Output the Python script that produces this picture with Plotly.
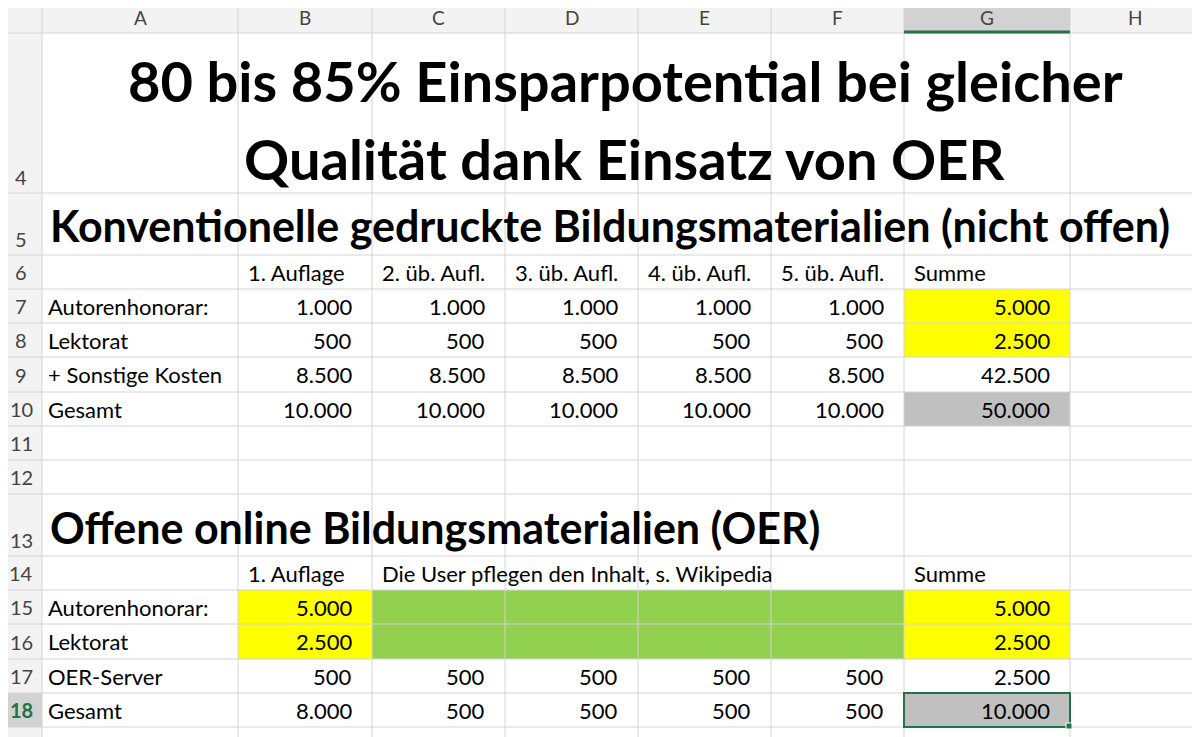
import plotly.graph_objects as go

# ---- data ----
col_letters = ["A", "B", "C", "D", "E", "F", "G", "H"]
row_numbers = [4, 5, 6, 7, 8, 9, 10, 11, 12, 13, 14, 15, 16, 17, 18]
title_lines = ["80 bis 85% Einsparpotential bei gleicher", "Qualität dank Einsatz von OER"]
section1 = "Konventionelle gedruckte Bildungsmaterialien (nicht offen)"
section2 = "Offene online Bildungsmaterialien (OER)"
head1 = ["", "1. Auflage", "2. üb. Aufl.", "3. üb. Aufl.", "4. üb. Aufl.", "5. üb. Aufl.", "Summe"]
labels1 = ["Autorenhonorar:", "Lektorat", "+ Sonstige Kosten", "Gesamt"]
values1 = [["1.000"]*5 + ["5.000"], ["500"]*5 + ["2.500"], ["8.500"]*5 + ["42.500"], ["10.000"]*5 + ["50.000"]]
head2_b = "1. Auflage"
head2_c = "Die User pflegen den Inhalt, s. Wikipedia"
head2_g = "Summe"
labels2 = ["Autorenhonorar:", "Lektorat", "OER-Server", "Gesamt"]
values2 = [["5.000", "", "", "", "", "5.000"], ["2.500", "", "", "", "", "2.500"],
           ["500"]*5 + ["2.500"], ["8.000", "500", "500", "500", "500", "10.000"]]

# ---- layout geometry ----
xb = [0, 42, 238, 372, 505, 638, 771, 904, 1070, 1200]
yb = [33, 193, 255, 289, 323, 357, 392, 426, 460, 494, 556, 590, 624, 659, 693, 727, 737]
YELLOW, GREEN, GRAY = "#ffff00", "#92d050", "#c0c0c0"
FONT = "Lato"
CS = 22
shapes, ann = [], []

def rect(x0, x1, y0, y1, fill, line=None, w=0):
    shapes.append(dict(type="rect", x0=x0, x1=x1, y0=y0, y1=y1, fillcolor=fill,
                       line=dict(color=line or fill, width=w), layer="below"))

def text(x, y, t, anchor="left", size=CS, bold=False, color="black"):
    ann.append(dict(x=x, y=y, text=f"<b>{t}</b>" if bold else t, showarrow=False,
                    xanchor=anchor, yanchor="middle", font=dict(family=FONT, size=size, color=color)))

rect(-10, 1210, -10, 33, "#f3f3f3")
rect(xb[7], xb[8], -10, 33, "#d2d2d2")
rect(-10, 42, 33, 750, "#f3f3f3")
ri = {r: i for i, r in enumerate(row_numbers)}
def cell(col, row, fill):
    rect(xb[col+1], xb[col+2], yb[ri[row]], yb[ri[row]+1], fill)
for r in (7, 8): cell(6, r, YELLOW)
cell(6, 10, GRAY)
for r in (15, 16):
    cell(1, r, YELLOW); cell(6, r, YELLOW)
    rect(xb[3], xb[7], yb[ri[r]], yb[ri[r]+1], GREEN)
cell(6, 18, GRAY)
rect(-10, 42, yb[ri[18]], yb[ri[18]+1], "#d2d2d2")

for x in xb[1:-1]:
    shapes.append(dict(type="line", x0=x, x1=x, y0=-10, y1=750, line=dict(color="#d4d4d4", width=1)))
for y in yb[:-1]:
    shapes.append(dict(type="line", x0=-10, x1=1210, y0=y, y1=y, line=dict(color="#d4d4d4", width=1)))
rect(43, 1210, 34, 254, "white")
shapes.append(dict(type="line", x0=xb[7], x1=xb[8], y0=32, y1=32, line=dict(color="#217346", width=3)))
shapes.append(dict(type="rect", x0=xb[7], x1=xb[8], y0=yb[ri[18]], y1=yb[ri[18]+1],
                   line=dict(color="#217346", width=2)))
shapes.append(dict(type="rect", x0=xb[8]-4, x1=xb[8]+2, y0=yb[ri[18]+1]-4, y1=yb[ri[18]+1]+2,
                   fillcolor="#217346", line=dict(color="white", width=1)))

for i, c in enumerate(col_letters):
    text((xb[i+1]+xb[i+2])/2, 17, c, "center", 19, color="#444")
for i, r in enumerate(row_numbers):
    yc = yb[i+1]-16 if r in (4, 5, 13) else (yb[i]+yb[i+1])/2
    text(21, yc, str(r), "center", 20, color="#217346" if r == 18 else "#444", bold=(r == 18))

text(625, 80, title_lines[0], "center", 56, True)
text(625, 158, title_lines[1], "center", 56, True)
text(48, 225, section1, "left", 43, True)
text(48, 527, section2, "left", 43, True)

def mid(r): return (yb[ri[r]]+yb[ri[r]+1])/2
for j, h in enumerate(head1):
    if h: text(xb[j+1]+8, mid(6), h, "left")
for k, (lab, vals) in enumerate(zip(labels1, values1)):
    r = 7 + k
    text(xb[1]+4, mid(r), lab, "left")
    for j, v in enumerate(vals):
        text(xb[j+3]-18, mid(r), v, "right")
text(xb[2]+8, mid(14), head2_b, "left")
text(xb[3]+8, mid(14), head2_c, "left")
text(xb[7]+8, mid(14), head2_g, "left")
for k, (lab, vals) in enumerate(zip(labels2, values2)):
    r = 15 + k
    text(xb[1]+4, mid(r), lab, "left")
    for j, v in enumerate(vals):
        if v: text(xb[j+3]-18, mid(r), v, "right")

fig = go.Figure()
fig.update_layout(width=1200, height=737, margin=dict(l=0, r=0, t=0, b=0),
                  plot_bgcolor="white", paper_bgcolor="white", shapes=shapes, annotations=ann,
                  xaxis=dict(range=[8, 1208], visible=False, fixedrange=True),
                  yaxis=dict(range=[745, 8], visible=False, fixedrange=True), showlegend=False)
fig.write_html("out.html")
